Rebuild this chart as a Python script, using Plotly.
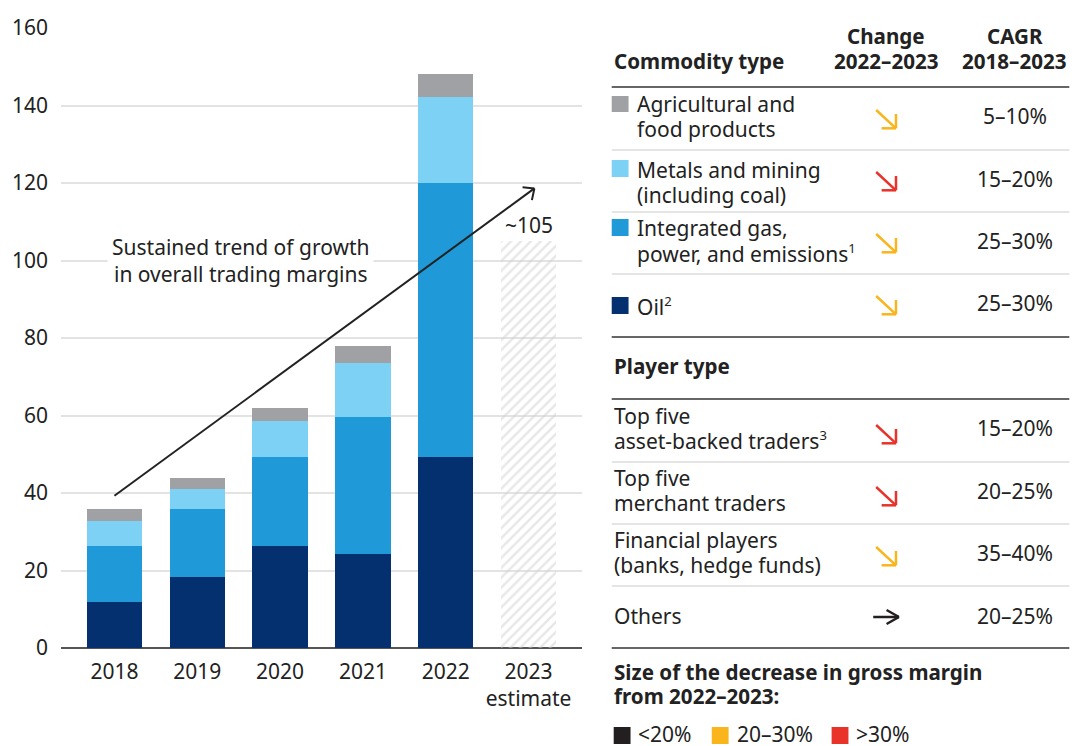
import math
import plotly.graph_objects as go

# ---------------- data ----------------
years = ["2018", "2019", "2020", "2021", "2022", "2023<br>estimate"]
oil = [12.0, 18.2, 26.4, 24.3, 49.4, None]
gas = [14.4, 17.7, 23.0, 35.4, 70.7, None]
metals = [6.4, 5.2, 9.3, 13.9, 22.2, None]
agri = [3.1, 2.9, 3.3, 4.4, 5.9, None]
estimate = [None, None, None, None, None, 105]
estimate_label = "~105"

trend_text = "Sustained trend of growth<br>in overall trading margins"
trend_start = (0.0, 39.3)     # (category index, value)
trend_end = (5.07, 118.6)

SUP = "<sup><span style='font-size:13px'>{}</span></sup>"
commodity_lines = [["Agricultural and", "food products"],
                   ["Metals and mining", "(including coal)"],
                   ["Integrated gas,", "power, and emissions" + SUP.format("1")],
                   ["Oil" + SUP.format("2")]]
commodity_change = ["mid", "high", "mid", "mid"]
commodity_cagr = ["5–10%", "15–20%", "25–30%", "25–30%"]

player_lines = [["Top five", "asset-backed traders" + SUP.format("3")],
                ["Top five", "merchant traders"],
                ["Financial players", "(banks, hedge funds)"],
                ["Others"]]
player_change = ["high", "high", "mid", "flat"]
player_cagr = ["15–20%", "20–25%", "35–40%", "20–25%"]

legend_labels = ["<20%", "20–30%", ">30%"]

# ---------------- styles ----------------
C_OIL = "#05306F"
C_GAS = "#1F99D7"
C_MET = "#7DD1F5"
C_AGR = "#A0A1A5"
C_TXT = "#222222"
C_CHG = {"low": "#231F20", "flat": "#231F20", "mid": "#F9B51B", "high": "#E8322A"}
FONT = "Noto Sans"
FS = 21
FSB = 20.6

W, H = 1078, 746
ML, MR, MT, MB = 56, 496, 28, 98
PW, PH = W - ML - MR, H - MT - MB
XR = (-0.645, 5.645)
YR = (0, 160)


def px(x):
    return (x - ML) / PW


def py(y):
    return (H - MB - y) / PH


def dx2px(xd):
    return ML + (xd - XR[0]) / (XR[1] - XR[0]) * PW


def dy2px(yd):
    return H - MB - (yd - YR[0]) / (YR[1] - YR[0]) * PH


fig = go.Figure()
for name, vals, col in [("Oil", oil, C_OIL), ("Gas", gas, C_GAS),
                        ("Metals", metals, C_MET), ("Agri", agri, C_AGR)]:
    fig.add_bar(x=years, y=vals, name=name, marker=dict(color=col, line=dict(width=0)),
                hoverinfo="skip")
fig.add_bar(x=years, y=estimate, name="estimate",
            marker=dict(color="rgba(0,0,0,0)", line=dict(width=0),
                        pattern=dict(shape="/", fgcolor="#d0d0d0", bgcolor="rgba(0,0,0,0)",
                                     size=7, solidity=0.35)),
            hoverinfo="skip")

shapes = []
annotations = []

# ~105 label
annotations.append(dict(x=years[5], y=estimate[5], xref="x", yref="y", text=estimate_label,
                        showarrow=False, yanchor="bottom", yshift=0,
                        font=dict(family=FONT, size=FS, color=C_TXT)))
# trend text
annotations.append(dict(x=1.518, y=100.1, xref="x", yref="y", text=trend_text,
                        showarrow=False, bgcolor="white", borderpad=4,
                        font=dict(family=FONT, size=FS, color=C_TXT)))

# trend arrow
ax0, ay0 = dx2px(trend_start[0]), dy2px(trend_start[1])
ax1, ay1 = dx2px(trend_end[0]), dy2px(trend_end[1])
shapes.append(dict(type="line", xref="paper", yref="paper",
                   x0=px(ax0), y0=py(ay0), x1=px(ax1), y1=py(ay1),
                   line=dict(color=C_TXT, width=2)))
ang = math.atan2(ay0 - ay1, ax0 - ax1)
for s in (-1, 1):
    a = ang + s * math.radians(42)
    hx, hy = ax1 + 12 * math.cos(a), ay1 + 12 * math.sin(a)
    shapes.append(dict(type="line", xref="paper", yref="paper",
                       x0=px(ax1), y0=py(ay1), x1=px(hx), y1=py(hy),
                       line=dict(color=C_TXT, width=2)))

# ---------------- table ----------------
TX0, TX1 = 612, 1074
CX_CHG, CX_CAGR = 889, 1019


def text(x, y, t, anchor="left", bold=False):
    annotations.append(dict(x=px(x), y=py(y), xref="paper", yref="paper", text=t,
                            showarrow=False, xanchor=anchor, yanchor="middle",
                            font=dict(family=FONT, size=FSB if bold else FS, color=C_TXT,
                                      weight=700 if bold else 400)))


def hline(y, dark):
    shapes.append(dict(type="line", xref="paper", yref="paper",
                       x0=px(TX0), x1=px(TX1), y0=py(y), y1=py(y),
                       line=dict(color="#333333" if dark else "#dcdcdc", width=1.6)))


def rect(x0, y0, x1, y1, col):
    shapes.append(dict(type="rect", xref="paper", yref="paper",
                       x0=px(x0), x1=px(x1), y0=py(y0), y1=py(y1),
                       fillcolor=col, line=dict(width=0)))


def seg(x0, y0, x1, y1, col):
    shapes.append(dict(type="line", xref="paper", yref="paper",
                       x0=px(x0), y0=py(y0), x1=px(x1), y1=py(y1),
                       line=dict(color=col, width=2.5)))


def change_arrow(cy, kind):
    col = C_CHG[kind]
    if kind == "flat":
        x0, x1 = CX_CHG - 13, CX_CHG + 13
        seg(x0, cy, x1, cy, col)
        seg(x1, cy, x1 - 12.5, cy - 7, col)
        seg(x1, cy, x1 - 12.5, cy + 7, col)
    else:
        tx, ty = CX_CHG + 10, cy + 9.3
        seg(CX_CHG - 10, cy - 9, tx, ty, col)
        seg(tx, ty, tx - 14.5, ty, col)
        seg(tx, ty, tx, ty - 14.3, col)


text(612, 61, "Commodity type", bold=True)
text(CX_CHG, 36, "Change", anchor="center", bold=True)
text(CX_CHG, 61, "2022–2023", anchor="center", bold=True)
text(CX_CAGR, 36, "CAGR", anchor="center", bold=True)
text(CX_CAGR, 61, "2018–2023", anchor="center", bold=True)
hline(87, True)

com_line_y = [[104, 129], [170, 195], [228.3, 253.3], [306]]
com_arrow_y = [119, 181, 243, 305]
com_val_y = [116, 179, 241, 303]
swatch_y = [(96, 112), (160, 177), (219, 236), (297, 314)]
swatch_c = [C_AGR, C_MET, C_GAS, C_OIL]
for i in range(4):
    rect(612, swatch_y[i][0], 629, swatch_y[i][1], swatch_c[i])
    for ln, yy in zip(commodity_lines[i], com_line_y[i]):
        text(636, yy, ln)
    change_arrow(com_arrow_y[i], commodity_change[i])
    text(CX_CAGR, com_val_y[i], commodity_cagr[i], anchor="center")
for y in (150, 212, 274):
    hline(y, False)
hline(337, True)

text(612, 365.7, "Player type", bold=True)
hline(399, True)
pl_line_y = [[416, 440], [477.7, 503.3], [540, 565], [616]]
pl_arrow_y = [434, 496, 556, 617]
pl_val_y = [428, 491, 553, 616]
for i in range(4):
    for ln, yy in zip(player_lines[i], pl_line_y[i]):
        text(612, yy, ln)
    change_arrow(pl_arrow_y[i], player_change[i])
    text(CX_CAGR, pl_val_y[i], player_cagr[i], anchor="center")
for y in (462, 524, 586):
    hline(y, False)
hline(648, True)

text(612, 672.3, "Size of the decrease in gross margin", bold=True)
text(612, 695.7, "from 2022–2023:", bold=True)
leg_x = [614, 713, 834]
leg_c = [C_CHG["low"], C_CHG["mid"], C_CHG["high"]]
for i in range(3):
    rect(leg_x[i], 727, leg_x[i] + 17, 744, leg_c[i])
    text(leg_x[i] + 23, 734, legend_labels[i])

fig.update_layout(
    width=W, height=H, barmode="stack", bargap=0.33,
    showlegend=False, plot_bgcolor="white", paper_bgcolor="white",
    margin=dict(l=ML, r=MR, t=MT, b=MB),
    font=dict(family=FONT, size=FS, color=C_TXT),
    shapes=shapes, annotations=annotations,
    xaxis=dict(range=list(XR), showgrid=False, showline=False, ticks="",
               ticklabelstandoff=9,
               tickfont=dict(family=FONT, size=FS, color=C_TXT), fixedrange=True),
    yaxis=dict(range=list(YR), tickvals=[0, 20, 40, 60, 80, 100, 120, 140, 160],
               showgrid=True, gridcolor="#e3e3e3", gridwidth=1.5,
               zeroline=True, zerolinecolor="#555555", zerolinewidth=2,
               showline=False, ticks="", ticklabelstandoff=12,
               tickfont=dict(family=FONT, size=FS, color=C_TXT), fixedrange=True),
)

fig.write_html("out.html", config={"displayModeBar": False},
               post_script="document.body.style.margin='0px';")
